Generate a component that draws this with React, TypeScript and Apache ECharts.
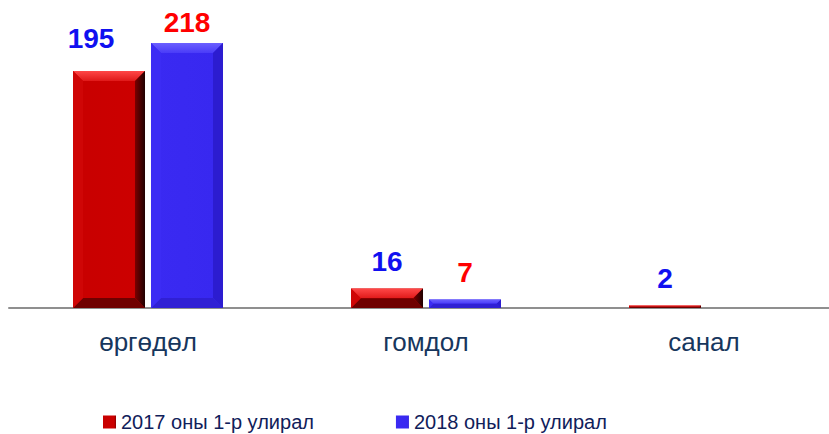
import React, { useEffect, useRef } from "react";
import * as echarts from "echarts";

const categories = ["өргөдөл", "гомдол", "санал"];
const seriesNames = ["2017 оны 1-р улирал", "2018 оны 1-р улирал"];
const values2017: (number | null)[] = [195, 16, 2];
const values2018: (number | null)[] = [218, 7, null];

const FONT = "'Liberation Sans', Arial, sans-serif";
const BAR_W = 72;
const HALF_STEP = 39; // half of (bar width + gap)

const redFill = new echarts.graphic.LinearGradient(0, 0, 1, 0, [
  { offset: 0, color: "#c80000" },
  { offset: 0.85, color: "#cc0000" },
  { offset: 1, color: "#8a0000" },
]);
const blueFill = new echarts.graphic.LinearGradient(0, 0, 1, 0, [
  { offset: 0, color: "#3a2af2" },
  { offset: 0.9, color: "#3828f0" },
  { offset: 1, color: "#3020d8" },
]);

const bevelColors = [
  {
    top: new echarts.graphic.LinearGradient(0, 0, 0, 1, [
      { offset: 0, color: "#ff4848" },
      { offset: 1, color: "#e01a1a" },
    ]),
    right: new echarts.graphic.LinearGradient(0, 0, 1, 0, [
      { offset: 0, color: "#7a0000" },
      { offset: 1, color: "#200000" },
    ]),
    bottom: "#700000",
    left: "#cf0606",
  },
  {
    top: new echarts.graphic.LinearGradient(0, 0, 0, 1, [
      { offset: 0, color: "#6c60ff" },
      { offset: 1, color: "#4a3cf8" },
    ]),
    right: "#2c1cd0",
    bottom: "#3020d4",
    left: "#3c2cf4",
  },
];

function bevelSeries(idx: number, data: (number | null)[]) {
  const offset = idx === 0 ? -HALF_STEP : HALF_STEP;
  const c = bevelColors[idx];
  return {
    type: "custom",
    name: "bevel" + idx,
    silent: true,
    z: 5,
    data: data.map((v, i) => (v == null ? null : [i, v])).filter((d) => d != null),
    renderItem: (params: any, api: any) => {
      const cat = api.value(0);
      const v = api.value(1);
      const base = api.coord([cat, 0]);
      const top = api.coord([cat, v]);
      const x0 = base[0] + offset - BAR_W / 2;
      const x1 = x0 + BAR_W;
      const y0 = top[1];
      const y1 = base[1];
      const b = Math.min(10, (y1 - y0) / 2);
      if (y1 - y0 < 1) return null;
      return {
        type: "group",
        children: [
          {
            type: "polygon",
            shape: { points: [[x0, y0], [x1, y0], [x1 - b, y0 + b], [x0 + b, y0 + b]] },
            style: { fill: c.top },
          },
          {
            type: "polygon",
            shape: { points: [[x1, y0], [x1, y1], [x1 - b, y1 - b], [x1 - b, y0 + b]] },
            style: { fill: c.right },
          },
          {
            type: "polygon",
            shape: { points: [[x0, y1], [x1, y1], [x1 - b, y1 - b], [x0 + b, y1 - b]] },
            style: { fill: c.bottom },
          },
          {
            type: "polygon",
            shape: { points: [[x0, y0], [x0 + b, y0 + b], [x0 + b, y1 - b], [x0, y1]] },
            style: { fill: c.left },
          },
        ],
      };
    },
  };
}

export default function App() {
  const ref = useRef<HTMLDivElement>(null);
  useEffect(() => {
    if (!ref.current) return;
    const chart = echarts.init(ref.current, null, { renderer: "svg" });
    const labelBase = {
      show: true,
      position: "top",
      distance: 13,
      fontSize: 28,
      fontWeight: "bold",
      fontFamily: FONT,
    };
    chart.setOption({
      animation: false,
      backgroundColor: "#ffffff",
      grid: { left: 9, top: 4, width: 834, height: 304, containLabel: false },
      legend: {
        left: 98,
        top: 407,
        itemWidth: 13,
        itemHeight: 13,
        itemGap: 82,
        icon: "rect",
        data: seriesNames,
        textStyle: { fontSize: 20, fontFamily: FONT, color: "#10205a" },
      },
      xAxis: {
        type: "category",
        data: categories,
        axisLine: { show: true, lineStyle: { color: "#8f8f8f", width: 2 } },
        axisTick: { show: false },
        axisLabel: { fontSize: 26, fontFamily: FONT, color: "#17365d", margin: 21 },
      },
      yAxis: {
        type: "value",
        min: 0,
        max: 250,
        show: false,
        splitLine: { show: false },
      },
      series: [
        {
          name: seriesNames[0],
          type: "bar",
          barWidth: BAR_W,
          barGap: "8.3%",
          itemStyle: { color: redFill },
          label: { ...labelBase, color: "#1010f0" },
          data: values2017.map((v, i) =>
            i === 0 ? { value: v, label: { offset: [-18, -5] } } : v
          ),
        },
        {
          name: seriesNames[1],
          type: "bar",
          barWidth: BAR_W,
          barGap: "8.3%",
          itemStyle: { color: blueFill },
          label: { ...labelBase, color: "#ff0000" },
          data: values2018.map((v, i) =>
            i === 0 ? { value: v, label: { offset: [0, 7] } } : v
          ),
        },
        bevelSeries(0, values2017),
        bevelSeries(1, values2018),
      ],
    });
    return () => chart.dispose();
  }, []);
  return (
    <div
      ref={ref}
      style={{ position: "fixed", left: 0, top: 0, width: 845, height: 434 }}
    />
  );
}
